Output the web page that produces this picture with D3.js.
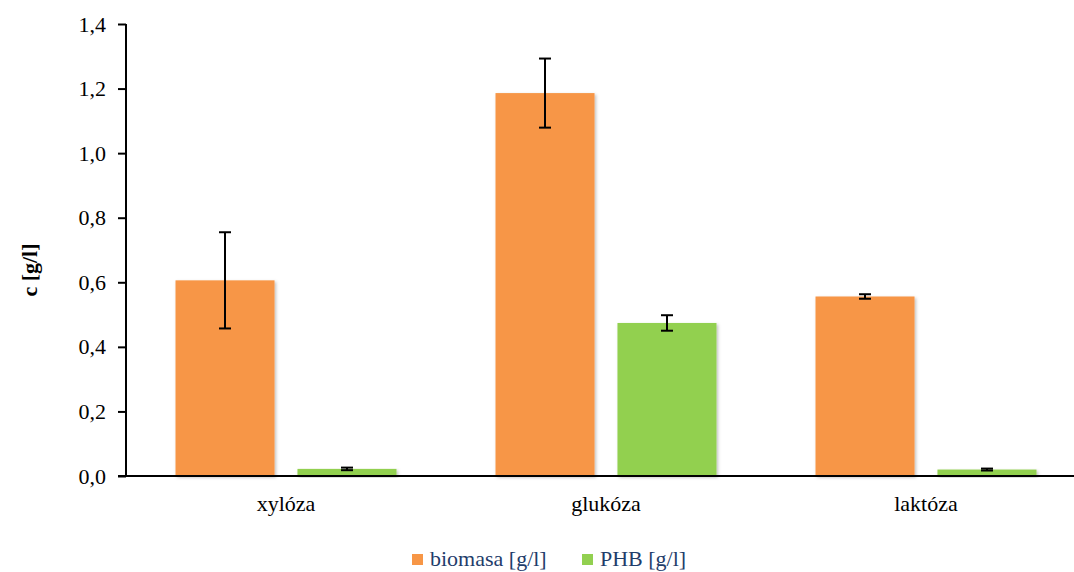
<!DOCTYPE html>
<html>
<head>
<meta charset="utf-8">
<script src="https://cdn.jsdelivr.net/npm/d3@7"></script>
<style>
  html, body { margin: 0; padding: 0; background: #fff; }
  svg { display: block; }
  svg text { font-family: "Liberation Serif", "Times New Roman", "DejaVu Serif", serif !important; }
</style>
</head>
<body>
<svg id="chart" width="1074" height="572"></svg>
<script>
const categories = ["xylóza", "glukóza", "laktóza"];
const seriesNames = ["biomasa [g/l]", "PHB [g/l]"];
const biomasa = [0.606, 1.186, 0.556];
const biomasaErr = [0.149, 0.107, 0.007];
const phb = [0.022, 0.474, 0.020];
const phbErr = [0.004, 0.024, 0.003];
const yTicks = [0, 0.2, 0.4, 0.6, 0.8, 1.0, 1.2, 1.4];
const colors = ["#F79646", "#92D050"];

const series = [
  { name: seriesNames[0], values: biomasa, errs: biomasaErr, color: colors[0] },
  { name: seriesNames[1], values: phb, errs: phbErr, color: colors[1] }
];

const svg = d3.select("#chart");

const x0 = d3.scaleBand().domain(categories).range([126, 1086]).paddingInner(0).paddingOuter(0);
const x1 = d3.scaleBand().domain(seriesNames).range([49.5, 320 - 49.5]).paddingInner(0.188).paddingOuter(0);
const y = d3.scaleLinear().domain([0, 1.4]).range([476, 24]);

const defs = svg.append("defs");
const f = defs.append("filter").attr("id", "shadow").attr("x", "-10%").attr("y", "-10%").attr("width", "130%").attr("height", "130%");
f.append("feDropShadow").attr("dx", 1.5).attr("dy", 1.5).attr("stdDeviation", 1.5).attr("flood-color", "#000").attr("flood-opacity", 0.25);

// bars
const g = svg.append("g");
series.forEach(s => {
  g.selectAll(null).data(categories).enter().append("rect")
    .attr("x", c => x0(c) + x1(s.name))
    .attr("y", (c, i) => y(s.values[i]))
    .attr("width", x1.bandwidth())
    .attr("height", (c, i) => y(0) - y(s.values[i]))
    .attr("fill", s.color)
    .attr("filter", "url(#shadow)");
});

// error bars
series.forEach(s => {
  categories.forEach((c, i) => {
    const cx = x0(c) + x1(s.name) + x1.bandwidth() / 2;
    const top = y(s.values[i] + s.errs[i]);
    const bot = y(s.values[i] - s.errs[i]);
    const eg = svg.append("g").attr("stroke", "#000").attr("stroke-width", 2);
    eg.append("line").attr("x1", cx).attr("x2", cx).attr("y1", top).attr("y2", bot);
    eg.append("line").attr("x1", cx - 6).attr("x2", cx + 6).attr("y1", top).attr("y2", top);
    eg.append("line").attr("x1", cx - 6).attr("x2", cx + 6).attr("y1", bot).attr("y2", bot);
  });
});

// y axis
const yAxis = d3.axisLeft(y).tickValues(yTicks).tickSize(8).tickPadding(12)
  .tickFormat(d => d3.format(".1f")(d).replace(".", ","));
const ya = svg.append("g").attr("transform", "translate(126,0)").call(yAxis);
ya.attr("font-family", null).attr("font-size", null);
ya.select(".domain").attr("stroke", "#000").attr("stroke-width", 2).attr("d", "M0,24V476");
ya.selectAll(".tick line").attr("stroke", "#000").attr("stroke-width", 2);
ya.selectAll(".tick text").style("font-size", "22px").attr("fill", "#000");

// x axis
const xAxis = d3.axisBottom(x0).tickSize(0).tickPadding(19);
const xa = svg.append("g").attr("transform", "translate(0,476)").call(xAxis);
xa.attr("font-family", null).attr("font-size", null);
xa.select(".domain").attr("stroke", "#000").attr("stroke-width", 2).attr("d", "M118,0H1086");
xa.selectAll(".tick text").style("font-size", "22px").attr("fill", "#000");

// y label
svg.append("text")
  .attr("transform", "translate(37,270) rotate(-90)")
  .attr("text-anchor", "middle")
  .style("font-size", "22px").attr("font-weight", "bold")
  .text("c [g/l]");

// legend
const legendX = [412, 582];
series.forEach((s, i) => {
  svg.append("rect").attr("x", legendX[i]).attr("y", 554).attr("width", 11).attr("height", 11).attr("fill", s.color);
  svg.append("text").attr("x", legendX[i] + 18).attr("y", 566)
    .style("font-size", "22px").attr("fill", "#1F3D6B")
    .text(s.name);
});
</script>
</body>
</html>
